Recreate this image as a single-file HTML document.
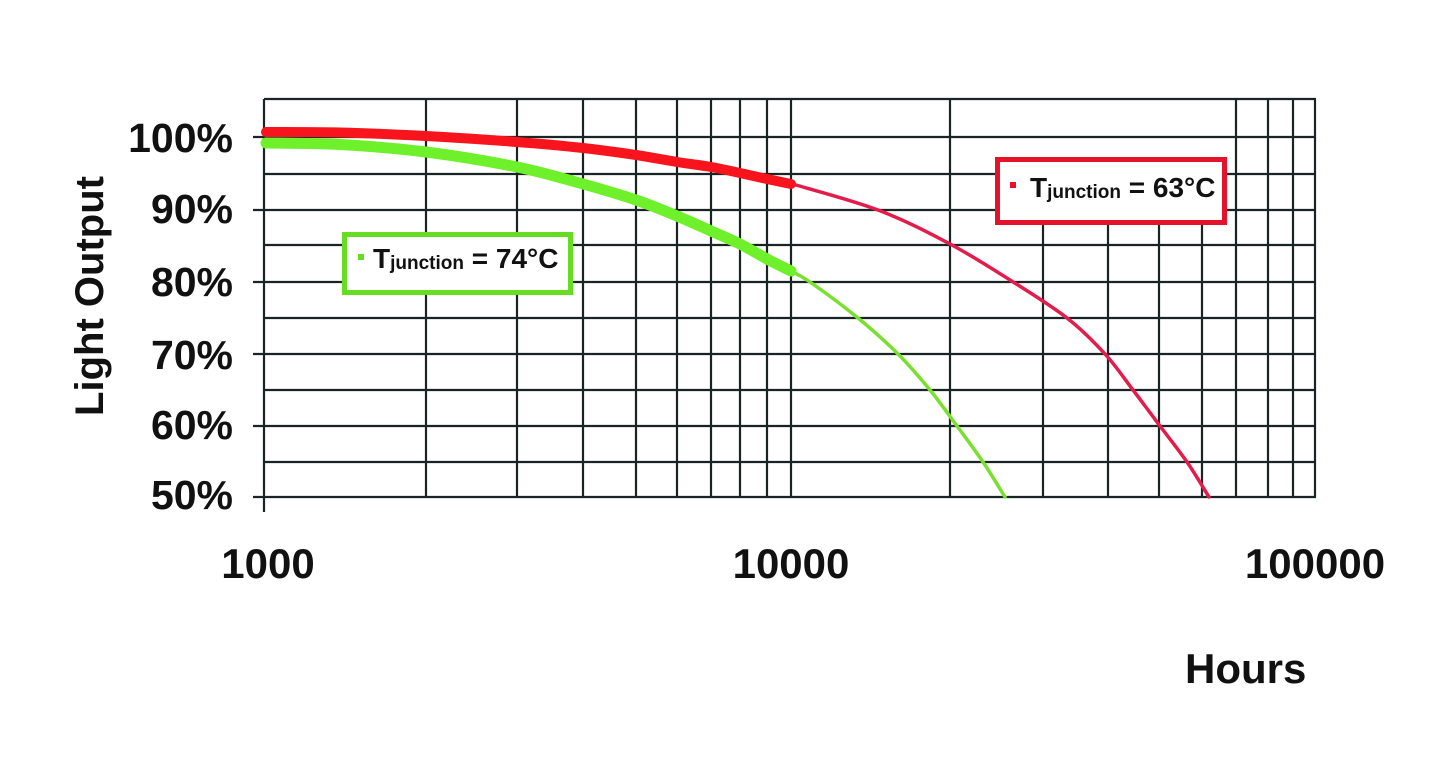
<!DOCTYPE html>
<html>
<head>
<meta charset="utf-8">
<style>
  html,body{margin:0;padding:0;background:#fff;}
  svg{display:block;}
  text{font-family:"Liberation Sans", Arial, sans-serif;font-weight:bold;fill:#111;}
</style>
</head>
<body>
<svg width="1450" height="760" viewBox="0 0 1450 760" xmlns="http://www.w3.org/2000/svg">
  <rect width="1450" height="760" fill="#fff"/>
  <g stroke="#1a2424" stroke-width="2.2" fill="none">
    <line x1="264" y1="99" x2="1316" y2="99"/>
    <line x1="253" y1="137" x2="1316" y2="137"/>
    <line x1="264" y1="174" x2="1316" y2="174"/>
    <line x1="253" y1="210" x2="1316" y2="210"/>
    <line x1="264" y1="245" x2="1316" y2="245"/>
    <line x1="253" y1="282" x2="1316" y2="282"/>
    <line x1="264" y1="318" x2="1316" y2="318"/>
    <line x1="253" y1="354" x2="1316" y2="354"/>
    <line x1="264" y1="390" x2="1316" y2="390"/>
    <line x1="253" y1="426" x2="1316" y2="426"/>
    <line x1="264" y1="462" x2="1316" y2="462"/>
    <line x1="253" y1="497" x2="1316" y2="497"/>
    <line x1="264" y1="99" x2="264" y2="512"/>
    <line x1="426" y1="99" x2="426" y2="497"/>
    <line x1="517" y1="99" x2="517" y2="497"/>
    <line x1="583" y1="99" x2="583" y2="497"/>
    <line x1="636" y1="99" x2="636" y2="497"/>
    <line x1="677" y1="99" x2="677" y2="497"/>
    <line x1="711" y1="99" x2="711" y2="497"/>
    <line x1="740" y1="99" x2="740" y2="497"/>
    <line x1="767" y1="99" x2="767" y2="497"/>
    <line x1="791" y1="99" x2="791" y2="497"/>
    <line x1="950" y1="99" x2="950" y2="497"/>
    <line x1="1043" y1="225" x2="1043" y2="497"/>
    <line x1="1108" y1="225" x2="1108" y2="497"/>
    <line x1="1159" y1="225" x2="1159" y2="497"/>
    <line x1="1202" y1="225" x2="1202" y2="497"/>
    <line x1="1236" y1="99" x2="1236" y2="497"/>
    <line x1="1268" y1="99" x2="1268" y2="497"/>
    <line x1="1293" y1="99" x2="1293" y2="497"/>
    <line x1="1315" y1="99" x2="1315" y2="497"/>
  </g>

  <!-- Red curve (63°C) -->
  <polyline class="sm" fill="none" stroke="#e41c4c" stroke-width="3.5" stroke-linejoin="round" stroke-linecap="round"
    points="789,183 878,210 950,244 1010,280 1067,318 1105,354 1133,390 1160,426 1187,462 1209,497"/>
  <polyline class="sm" fill="none" stroke="#f8141c" stroke-width="10" stroke-linejoin="round" stroke-linecap="round"
    points="266,132 340,132.5 426,136 517,142 583,148 636,155 677,162 711,167 740,173 767,179 791,184"/>

  <!-- Green curve (74°C) -->
  <polyline class="sm" fill="none" stroke="#7ae030" stroke-width="3.5" stroke-linejoin="round" stroke-linecap="round"
    points="789,270 810,282 858,318 898,354 930,390 957,426 983,462 1005,497"/>
  <polyline class="sm" fill="none" stroke="#6ef02a" stroke-width="11" stroke-linejoin="round" stroke-linecap="round"
    points="266,143 340,144.5 426,152 517,167 583,184 636,200 677,216 711,231 740,244 767,259 791,271"/>

  <!-- Green legend -->
  <rect x="344.5" y="234.5" width="226" height="58" fill="#fff" stroke="#66dd22" stroke-width="5"/>
  <rect x="358" y="254" width="6" height="6" fill="#66dd22"/>
  <text x="373" y="268" font-size="28">T<tspan font-size="19" dy="1">junction</tspan><tspan dy="-1"> = 74°C</tspan></text>

  <!-- Red legend -->
  <rect x="997.5" y="159.5" width="227" height="63" fill="#fff" stroke="#e3132b" stroke-width="5"/>
  <rect x="1010" y="182" width="6" height="6" fill="#e3132b"/>
  <text x="1030" y="197" font-size="28">T<tspan font-size="19" dy="1">junction</tspan><tspan dy="-1"> = 63°C</tspan></text>

  <g font-size="41" text-anchor="end">
    <text x="233" y="152">100%</text>
    <text x="233" y="223">90%</text>
    <text x="233" y="296">80%</text>
    <text x="233" y="369">70%</text>
    <text x="233" y="439">60%</text>
    <text x="233" y="509">50%</text>
  </g>

  <text transform="translate(103,296) rotate(-90)" text-anchor="middle" font-size="40">Light Output</text>

  <g font-size="42" text-anchor="middle">
    <text x="268" y="578">1000</text>
    <text x="791" y="578">10000</text>
    <text x="1315" y="578">100000</text>
  </g>
  <text x="1185" y="683" font-size="42">Hours</text>
</svg>
<script>
(function(){
  var ns="http://www.w3.org/2000/svg";
  var els=document.querySelectorAll("polyline.sm");
  for(var k=0;k<els.length;k++){
    var pl=els[k];
    var raw=pl.getAttribute("points").trim().split(/\s+/).map(function(s){var a=s.split(",");return [parseFloat(a[0]),parseFloat(a[1])];});
    var d="M"+raw[0][0]+","+raw[0][1];
    for(var i=0;i<raw.length-1;i++){
      var p0=raw[i>0?i-1:i],p1=raw[i],p2=raw[i+1],p3=raw[i+2<raw.length?i+2:i+1];
      var c1x=p1[0]+(p2[0]-p0[0])/6,c1y=p1[1]+(p2[1]-p0[1])/6;
      var c2x=p2[0]-(p3[0]-p1[0])/6,c2y=p2[1]-(p3[1]-p1[1])/6;
      d+=" C"+c1x.toFixed(2)+","+c1y.toFixed(2)+" "+c2x.toFixed(2)+","+c2y.toFixed(2)+" "+p2[0]+","+p2[1];
    }
    var path=document.createElementNS(ns,"path");
    path.setAttribute("d",d);
    ["fill","stroke","stroke-width","stroke-linejoin","stroke-linecap"].forEach(function(a){path.setAttribute(a,pl.getAttribute(a));});
    pl.parentNode.replaceChild(path,pl);
  }
})();
</script>
</body>
</html>
